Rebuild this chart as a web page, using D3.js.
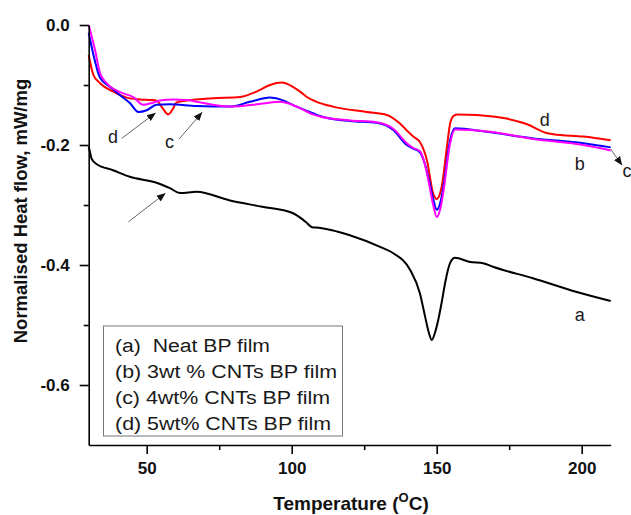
<!DOCTYPE html>
<html>
<head>
<meta charset="utf-8">
<script src="https://cdn.jsdelivr.net/npm/d3@7/dist/d3.min.js"></script>
<style>
  html, body { margin: 0; padding: 0; background: #fff; }
  svg { display: block; font-family: "Liberation Sans", Arial, sans-serif; }
</style>
</head>
<body>
<svg id="chart" width="631" height="515"></svg>
<script>
// ---- Data ----
// (a) Neat BP film
const tempA = [30, 30.5, 31.0, 32.8, 38.4, 44.2, 53.4, 58.0, 61.5, 67.2, 78.4, 89.8, 100.1, 104.8, 107.0, 109.4, 113.9, 119.8, 131.5, 134.9, 140.8, 144.2, 146.0, 147.3, 148.3, 149.4, 150.6, 151.7, 152.9, 154.6, 156.3, 161.5, 166.0, 169.4, 183.2, 198.3, 210];
const flowA = [-0.203, -0.213, -0.223, -0.232, -0.242, -0.253, -0.263, -0.272, -0.280, -0.278, -0.292, -0.303, -0.313, -0.328, -0.337, -0.338, -0.342, -0.350, -0.372, -0.380, -0.408, -0.447, -0.486, -0.513, -0.525, -0.513, -0.490, -0.463, -0.430, -0.397, -0.388, -0.395, -0.397, -0.403, -0.422, -0.445, -0.460];
// (b) 3wt % CNTs BP film
const tempB = [30, 31.5, 33.9, 37.3, 40.8, 44.2, 47.1, 50.0, 53.4, 58.0, 67.2, 78.7, 85.6, 92.5, 96.0, 101.7, 107.3, 110.0, 120.1, 129.3, 135.0, 139.7, 141.9, 144.2, 145.5, 147.1, 148.8, 150.0, 151.3, 152.3, 154.6, 156.3, 167.2, 183.3, 200.6, 210];
const flowB = [-0.013, -0.047, -0.088, -0.103, -0.117, -0.130, -0.145, -0.142, -0.133, -0.132, -0.135, -0.136, -0.128, -0.121, -0.124, -0.136, -0.147, -0.152, -0.160, -0.163, -0.175, -0.200, -0.206, -0.212, -0.225, -0.253, -0.290, -0.308, -0.295, -0.270, -0.192, -0.172, -0.178, -0.189, -0.197, -0.204];
// (c) 4wt% CNTs BP film
const tempC = [30, 32.2, 33.9, 36.2, 40.8, 45.3, 48.8, 51.0, 54.6, 59.1, 63.8, 67.2, 78.7, 90.1, 96.0, 101.7, 107.3, 110.0, 120.1, 129.3, 135.0, 139.7, 141.9, 144.2, 145.5, 147.1, 148.8, 150.0, 151.3, 152.3, 154.6, 156.3, 168.4, 183.3, 200.6, 210];
const flowC = [0.0, -0.042, -0.080, -0.097, -0.112, -0.120, -0.133, -0.131, -0.126, -0.124, -0.125, -0.128, -0.136, -0.131, -0.128, -0.136, -0.149, -0.153, -0.159, -0.162, -0.173, -0.197, -0.205, -0.210, -0.225, -0.258, -0.300, -0.320, -0.305, -0.278, -0.198, -0.174, -0.178, -0.190, -0.200, -0.209];
// (d) 5wt% CNTs BP film
const tempD = [30, 31.6, 33.9, 38.5, 43.1, 47.7, 51.7, 53.4, 55.4, 57.4, 59.0, 60.3, 63.8, 72.9, 82.2, 87.9, 92.5, 96.6, 100.4, 102.9, 105.2, 108.6, 114.2, 125.9, 132.8, 137.3, 140.8, 142.5, 144.2, 146.6, 148.8, 150.0, 151.7, 153.4, 154.6, 155.7, 157.0, 163.8, 174.1, 181.0, 187.9, 190.2, 200.6, 210];
const flowD = [-0.050, -0.083, -0.097, -0.111, -0.121, -0.124, -0.125, -0.126, -0.138, -0.149, -0.140, -0.129, -0.126, -0.122, -0.120, -0.111, -0.100, -0.096, -0.103, -0.111, -0.120, -0.128, -0.136, -0.145, -0.150, -0.164, -0.181, -0.188, -0.195, -0.225, -0.281, -0.290, -0.270, -0.208, -0.165, -0.152, -0.149, -0.150, -0.156, -0.165, -0.180, -0.182, -0.186, -0.192];

const legendLabels = ["(a)  Neat BP film", "(b) 3wt % CNTs BP film", "(c) 4wt% CNTs BP film", "(d) 5wt% CNTs BP film"];
const xMajorTicks = [50, 100, 150, 200];
const xMinorTicks = [75, 125, 175];
const yMajorTicks = [0, -0.2, -0.4, -0.6];
const yMinorTicks = [-0.1, -0.3, -0.5];

// ---- Layout ----
const W = 631, H = 515;
const margin = { left: 88.7, top: 25, right: 20.3, bottom: 70 };
const legendTextWidths = [155, 222, 215, 216];
const svg = d3.select("#chart");

const x = d3.scaleLinear().domain([30, 210]).range([margin.left, W - margin.right]);
const y = d3.scaleLinear().domain([-0.7, 0]).range([H - margin.bottom, margin.top]);

const series = [
  { t: tempA, v: flowA, color: "#000000" },
  { t: tempD, v: flowD, color: "#ff0000" },
  { t: tempB, v: flowB, color: "#0000ff" },
  { t: tempC, v: flowC, color: "#ff00ff" }
];

const line = d3.line().x(d => x(d[0])).y(d => y(d[1])).curve(d3.curveMonotoneX);

series.forEach(s => {
  svg.append("path")
    .datum(s.t.map((t, i) => [t, s.v[i]]))
    .attr("fill", "none")
    .attr("stroke", s.color)
    .attr("stroke-width", 2)
    .attr("stroke-linejoin", "round")
    .attr("d", line);
});

// ---- Axes ----
const fmt = d => d.toFixed(1);
const gx = svg.append("g").attr("transform", `translate(0,${H - margin.bottom})`)
  .call(d3.axisBottom(x).tickValues(xMajorTicks).tickSize(9).tickSizeOuter(0).tickPadding(8));
const gxm = svg.append("g").attr("transform", `translate(0,${H - margin.bottom})`)
  .call(d3.axisBottom(x).tickValues(xMinorTicks).tickSize(5).tickSizeOuter(0).tickFormat(""));
const gy = svg.append("g").attr("transform", `translate(${margin.left},0)`)
  .call(d3.axisLeft(y).tickValues(yMajorTicks).tickSize(9).tickSizeOuter(0).tickPadding(10).tickFormat(fmt));
const gym = svg.append("g").attr("transform", `translate(${margin.left},0)`)
  .call(d3.axisLeft(y).tickValues(yMinorTicks).tickSize(5).tickSizeOuter(0).tickFormat(""));

[gx, gxm, gy, gym].forEach(g => {
  g.selectAll("path.domain").attr("stroke", "#000").attr("stroke-width", 1.6);
  g.selectAll(".tick line").attr("stroke", "#000").attr("stroke-width", 1.6);
  g.selectAll(".tick text")
    .attr("fill", "#111")
    .style("font-family", '"Liberation Sans", Arial, sans-serif')
    .style("font-weight", "bold")
    .style("font-size", "17px");
});
gym.selectAll("path.domain").remove();
gxm.selectAll("path.domain").remove();

// ---- Axis titles ----
const xt = svg.append("text")
  .attr("x", 351).attr("y", 510)
  .attr("text-anchor", "middle")
  .style("font-weight", "bold").style("font-size", "19px").attr("fill", "#111");
xt.append("tspan").text("Temperature (");
xt.append("tspan").text("O").style("font-size", "13px").attr("dy", -8);
xt.append("tspan").text("C)").attr("dy", 8);

svg.append("text")
  .attr("transform", "translate(27,211) rotate(-90)")
  .attr("text-anchor", "middle")
  .style("font-weight", "bold").style("font-size", "18.5px").attr("fill", "#111")
  .text("Normalised Heat flow, mW/mg");

// ---- Legend ----
const lg = svg.append("g");
lg.append("rect")
  .attr("x", 103.5).attr("y", 326).attr("width", 239).attr("height", 110)
  .attr("fill", "#fff").attr("stroke", "#777").attr("stroke-width", 1);
legendLabels.forEach((txt, i) => {
  lg.append("text")
    .attr("x", 115).attr("y", 351.5 + i * 26)
    .style("font-size", "18px").attr("fill", "#1a1a1a")
    .attr("xml:space", "preserve")
    .style("white-space", "pre")
    .attr("textLength", legendTextWidths[i])
    .attr("lengthAdjust", "spacingAndGlyphs")
    .text(txt);
});

// ---- Annotations (in data units) ----
const defs = svg.append("defs");
defs.append("marker").attr("id", "ah").attr("viewBox", "0 0 10 10")
  .attr("refX", 9).attr("refY", 5).attr("markerWidth", 9).attr("markerHeight", 9)
  .attr("markerUnits", "userSpaceOnUse").attr("orient", "auto")
  .append("path").attr("d", "M0,1 L10,5 L0,9 z").attr("fill", "#111");

const arrows = [
  [41.4, -0.189, 52.9, -0.147],
  [61.2, -0.190, 69.0, -0.146],
  [43.7, -0.328, 56.3, -0.281],
  [210.0, -0.207, 213.8, -0.233]
];
arrows.forEach(a => {
  svg.append("line")
    .attr("x1", x(a[0])).attr("y1", y(a[1]))
    .attr("x2", x(a[2])).attr("y2", y(a[3]))
    .attr("stroke", "#666").attr("stroke-width", 1)
    .attr("marker-end", "url(#ah)");
});

const labels = [
  ["d", 38.4, -0.197, "middle"],
  ["c", 57.9, -0.205, "middle"],
  ["d", 187.3, -0.168, "middle"],
  ["b", 199.3, -0.242, "middle"],
  ["c", 214.1, -0.253, "start"],
  ["a", 199.3, -0.494, "middle"]
];
labels.forEach(l => {
  svg.append("text")
    .attr("x", x(l[1])).attr("y", y(l[2]))
    .attr("text-anchor", l[3])
    .style("font-size", "18px").attr("fill", "#1a1a1a")
    .text(l[0]);
});
</script>
</body>
</html>
